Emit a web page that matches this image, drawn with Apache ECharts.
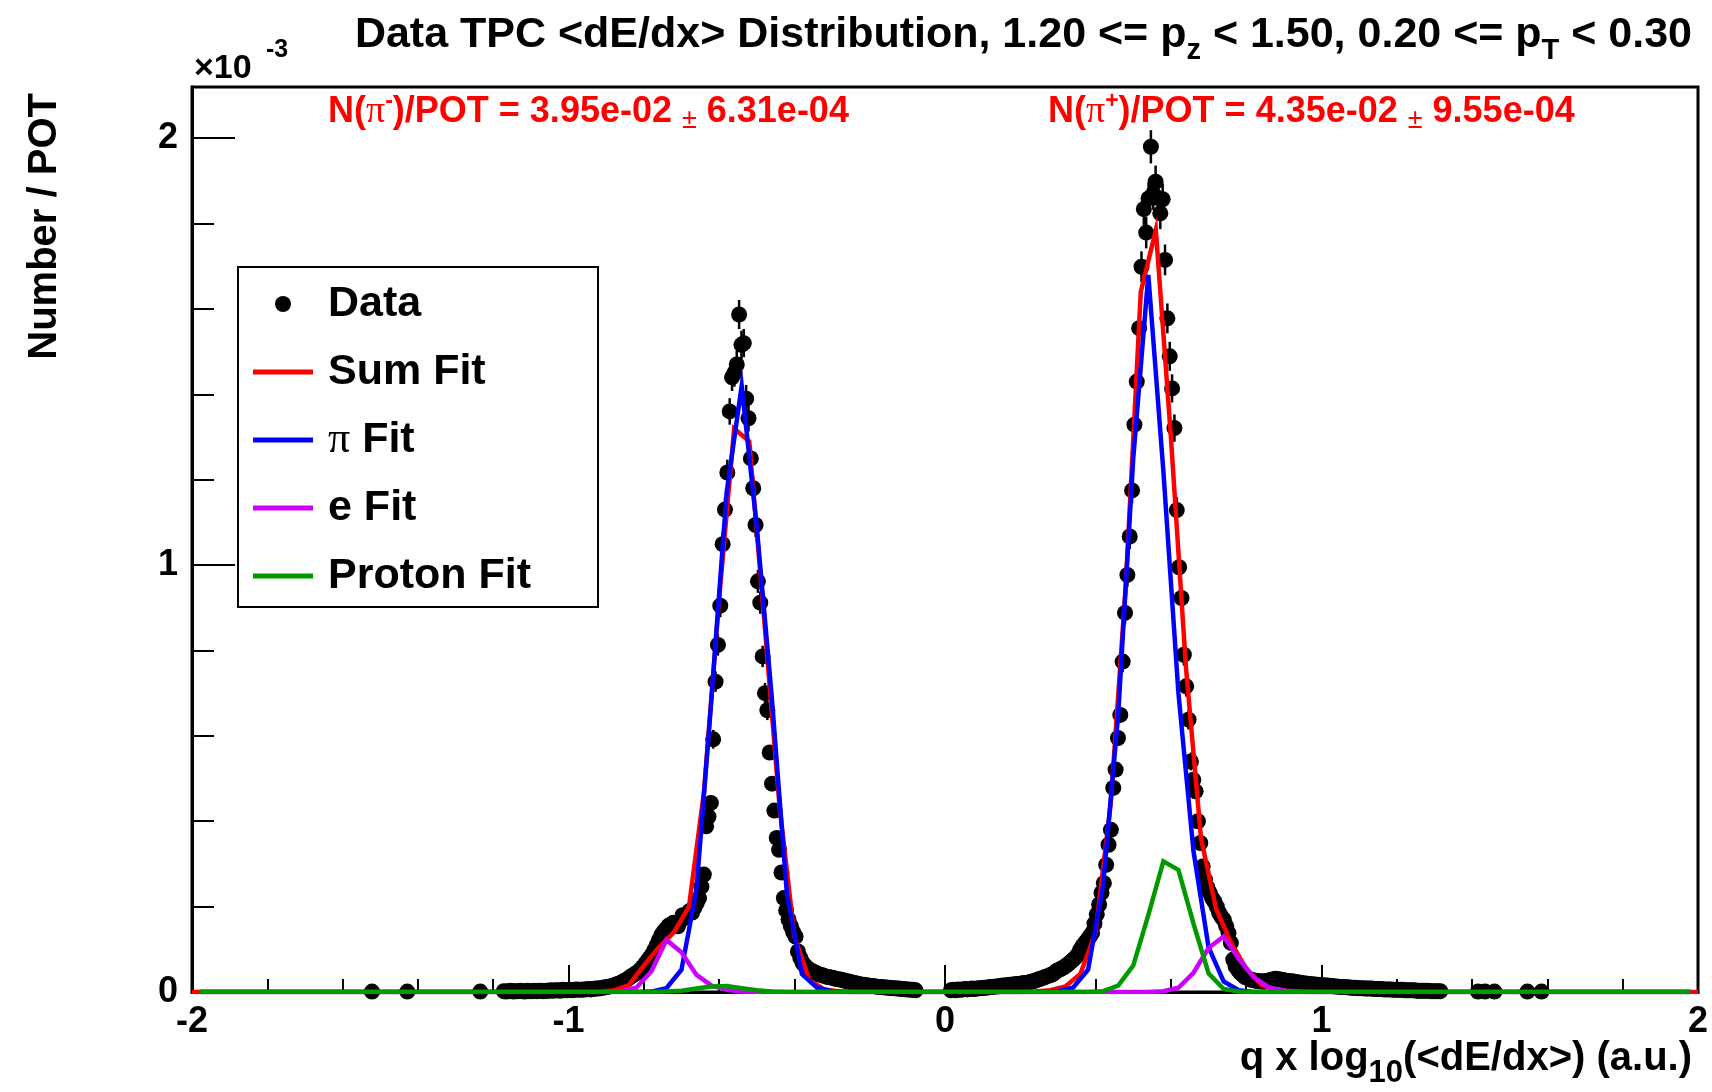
<!DOCTYPE html>
<html><head><meta charset="utf-8">
<script src="https://cdn.jsdelivr.net/npm/echarts/dist/echarts.min.js"></script>
<style>html,body{margin:0;padding:0;background:#fff}#c{width:1712px;height:1092px}</style>
</head><body><div id="c"></div>
<script>
// ---------------- data (values in units of 1e-3) ----------------
const BIN_WIDTH = 0.00625;          // histogram bin width in q x log10(<dE/dx>)
const X_MIN = -2;
const xTickLabels = ['-2', '-1', '0', '1', '2'];
const yTickLabels = ['0', '1', '2'];

// filled bins, negative side (first bin index 132)
const leftBandStart = 132;
const leftBand = [
0.002,0.001,0.002,0.003,0.001,0.002,0.002,0.003,0.002,0.001,0.003,0.002,0.002,0.003,0.002,0.003,0.003,0.002,0.003,
0.003,0.004,0.003,0.004,0.004,0.003,0.005,0.004,0.004,0.005,0.004,0.005,0.006,0.005,0.005,0.006,0.006,0.007,0.006,0.007,
0.008,0.008,0.009,0.010,0.011,0.012,0.013,0.014,0.016,0.018,
0.020,0.022,0.026,0.028,0.032,0.036,0.040,0.043,0.047,0.052,
0.058,0.065,0.072,0.080,0.088,0.098,0.110,0.122,0.134,0.142,
0.148,0.155,0.158,0.162,0.160,0.154,0.166,0.180,0.174,0.183,
0.190,0.186,0.198,0.208,0.220,0.247,0.275,0.388,0.411,0.443,
0.592,0.727,0.813,0.905,1.049,1.130,1.217,1.360,1.440,1.450,
1.470,1.587,1.516,1.520,1.390,1.344,1.250,1.180,1.094,0.962,
0.912,0.786,0.700,0.660,0.561,0.488,0.425,0.361,0.333,0.280,
0.220,0.191,0.170,0.154,0.140,0.130,0.095,0.080,0.068,0.062,
0.056,0.052,0.049,0.046,0.044,0.041,0.040,0.038,0.036,0.035,
0.034,0.033,0.031,0.030,0.029,0.028,0.026,0.025,0.024,0.022,
0.021,0.020,0.019,0.017,0.017,0.016,0.015,0.014,0.014,0.013,
0.012,0.012,0.011,0.011,0.010,0.010,0.009,0.009,0.008,0.008,
0.007,0.007,0.006,0.006,0.005,0.005,0.004
];
// filled bins, positive side (first bin index 322)
const rightBandStart = 322;
const rightBand = [
0.004,0.005,0.004,0.006,0.005,0.006,0.007,0.006,0.007,0.008,0.007,0.008,0.009,0.009,0.010,0.010,0.011,0.012,0.012,
0.013,0.013,0.014,0.015,0.015,0.016,0.017,0.017,0.018,0.019,0.019,0.020,0.021,0.021,0.022,
0.024,0.025,0.027,0.029,0.031,0.033,0.035,0.037,0.039,0.041,0.045,
0.050,0.052,0.055,0.058,0.062,0.066,0.071,0.076,0.081,0.088,
0.099,0.108,0.115,0.122,0.130,0.138,0.160,0.182,0.205,0.232,
0.255,0.298,0.345,0.380,0.478,0.521,0.595,0.649,0.774,0.888,
0.977,1.067,1.175,1.329,1.430,1.555,
1.699,1.834,1.779,1.859,1.980,1.870,1.898,1.860,1.824,1.857,
1.715,1.578,1.489,1.414,1.321,1.129,0.995,0.923,0.790,0.716,
0.638,0.540,0.497,0.470,0.400,0.349,0.294,0.263,0.245,0.232,
0.220,0.212,0.200,0.185,0.176,0.169,0.154,0.138,0.115,0.076,
0.060,0.052,0.045,0.040,0.035,0.033,0.030,0.028,0.027,0.026,0.025,0.025,0.024,
0.026,0.027,0.028,0.030,0.031,0.030,0.029,0.028,0.027,0.026,0.025,0.025,0.024,0.023,0.022,
0.021,0.020,0.020,0.019,0.018,0.018,0.017,0.017,0.016,0.016,
0.015,0.015,0.014,0.014,0.013,0.013,0.012,0.012,0.012,0.011,
0.011,0.010,0.010,0.010,0.009,0.009,0.009,0.008,0.008,0.008,
0.008,0.007,0.007,0.007,0.007,0.006,0.006,0.006,0.006,0.005,
0.005,0.005,0.005,0.005,0.004,0.004,0.004,0.004,0.004,0.003,
0.003,0.003,0.003,0.003,0.003,0.002,0.002,0.002,0.002,0.002
];
// isolated filled bins
const isolatedBins = [76, 91, 122, 546, 549, 553, 567, 573];
const isolatedVals = [0.001, 0.001, 0.001, 0.001, 0.001, 0.001, 0.001, 0.001];
// statistical errors where they show beyond the markers
const leftErrStart = 221;
const leftErr = [0.022,0.024,0.025,0.027,0.028,0.029,0.030,0.031,0.032,0.032,0.032,0.034,0.033,0.033,0.032,0.031,0.030,0.029,0.028,0.027,0.026,0.025,0.024,0.023];
const rightErrStart = 395;
const rightErr = [0.025,0.027,0.028,0.029,0.030,0.032,0.033,0.034,0.036,0.037,0.037,0.037,0.039,0.038,0.038,0.037,0.037,0.037,0.036,0.035,0.034,0.033,0.032,0.030,0.028,0.027,0.025,0.024,0.023,0.021];

// fit curves, sampled every 0.04
const FIT_STEP = 0.04;
const sumFitX0 = -2.00;
const sumFit = [
0,0,0,0,0,0,0,0,0,0,
0,0,0,0,0,0,0,0,0,0,
0,0,0,0,0,0,0,0,0.004,0.016,
0.062,0.105,0.140,0.200,0.47,0.92,1.32,1.29,0.87,0.44,
0.13,0.027,0.006,0.001,0,0,0,0,0,0,
0,0,0,0,0,0,0.001,0.004,0.013,0.043,
0.14,0.44,0.95,1.64,1.785,1.30,0.76,0.36,0.195,0.115,
0.055,0.017,0.005,0.001,0,0,0,0,0,0,
0,0,0,0,0,0,0,0,0,0,
0,0,0,0,0,0,0,0,0,0,
0];
const compFitX0 = -1.98;
const piFit = [
0,0,0,0,0,0,0,0,0,0,
0,0,0,0,0,0,0,0,0,0,
0,0,0,0,0,0,0,0,0,0,
0.001,0.009,0.052,0.24,0.69,1.17,1.42,1.09,0.69,0.23,
0.042,0.01,0.002,0,0,0,0,0,0,0,
0,0,0,0,0,0,0,0.002,0.01,0.052,
0.25,0.65,1.25,1.68,1.22,0.70,0.33,0.105,0.025,0.004,
0,0,0,0,0,0,0,0,0,0,
0,0,0,0,0,0,0,0,0,0,
0,0,0,0,0,0,0,0,0,0];
const eFit = [
0,0,0,0,0,0,0,0,0,0,
0,0,0,0,0,0,0,0,0,0,
0,0,0,0,0,0,0,0,0.002,0.01,
0.048,0.122,0.093,0.040,0.015,0.005,0.001,0,0,0,
0,0,0,0,0,0,0,0,0,0,
0,0,0,0,0,0,0,0,0,0,
0,0,0,0,0.002,0.01,0.045,0.103,0.130,0.078,
0.035,0.011,0.003,0.001,0,0,0,0,0,0,
0,0,0,0,0,0,0,0,0,0,
0,0,0,0,0,0,0,0,0,0];
const protonFit = [
0,0,0,0,0,0,0,0,0,0,
0,0,0,0,0,0,0,0,0,0,
0,0,0,0,0,0,0,0,0,0,
0,0.001,0.003,0.008,0.013,0.014,0.009,0.004,0.001,0,
0,0,0,0,0,0,0,0,0,0,
0,0,0,0,0,0,0,0,0,0,
0.002,0.015,0.062,0.18,0.306,0.286,0.16,0.044,0.007,0.001,
0,0,0,0,0,0,0,0,0,0,
0,0,0,0,0,0,0,0,0,0,
0,0,0,0,0,0,0,0,0,0];

const seriesNames = ['Data', 'Sum Fit', 'π Fit', 'e Fit', 'Proton Fit'];
const seriesColors = ['#000000', '#ff0000', '#0000ff', '#cc00ff', '#009900'];
const titleParts = ['Data TPC <dE/dx> Distribution, 1.20 <= p', 'z', ' < 1.50, 0.20 <= p', 'T', ' < 0.30'];
const yieldTexts = [
  ['N(', 'π', '-', ')/POT = 3.95e-02 ', '±', ' 6.31e-04'],
  ['N(', 'π', '+', ')/POT = 4.35e-02 ', '±', ' 9.55e-04']
];

// ---------------- build ----------------
const FONT = '"Liberation Sans", Arial, Helvetica, sans-serif';
const SERIF = '"Liberation Serif", "DejaVu Serif", serif';
const binX = i => X_MIN + (i + 0.5) * BIN_WIDTH;

const dataPts = [];
leftBand.forEach((v, k) => dataPts.push([binX(leftBandStart + k), v]));
rightBand.forEach((v, k) => dataPts.push([binX(rightBandStart + k), v]));
isolatedBins.forEach((b, k) => dataPts.push([binX(b), isolatedVals[k]]));

const valueAt = i => {
  if (i >= leftBandStart && i < leftBandStart + leftBand.length) return leftBand[i - leftBandStart];
  if (i >= rightBandStart && i < rightBandStart + rightBand.length) return rightBand[i - rightBandStart];
  return 0;
};
const errPts = [];
leftErr.forEach((e, k) => { const i = leftErrStart + k; errPts.push([binX(i), valueAt(i), e]); });
rightErr.forEach((e, k) => { const i = rightErrStart + k; errPts.push([binX(i), valueAt(i), e]); });

const LINE_ICON = 'path://M0,0H60V5H0Z';
function fitSeries(name, x0, vals, color, z) {
  return {
    name, type: 'line', data: vals.map((v, j) => [x0 + j * FIT_STEP, v]),
    showSymbol: false, symbol: 'none', color, itemStyle: { color },
    lineStyle: { color, width: 4.5, join: 'miter' }, z, animation: false, clip: true
  };
}

// echarts text style (color) and zrender graphic style (fill)
const txt = (size, extra) => Object.assign({ fontFamily: FONT, fontWeight: 'bold', fontSize: size, color: '#000' }, extra || {});
const gtxt = (size, extra) => Object.assign({ fontFamily: FONT, fontWeight: 'bold', fontSize: size, fill: '#000' }, extra || {});

const RED = '#ff0000';
const redRich = {
  a: gtxt(36, { fill: RED, lineHeight: 44, verticalAlign: 'middle' }),
  p: { fontFamily: SERIF, fontWeight: 'normal', fontSize: 38, fill: RED, lineHeight: 44, verticalAlign: 'middle' },
  s: gtxt(23, { fill: RED, lineHeight: 22, verticalAlign: 'top' }),
  pm: { fontFamily: FONT, fontWeight: 'normal', fontSize: 27, fill: RED, lineHeight: 42, verticalAlign: 'bottom' }
};
const richLine = parts => `{a|${parts[0]}}{p|${parts[1]}}{s|${parts[2]}}{a|${parts[3]}}{pm|${parts[4]}}{a|${parts[5]}}`;

const chart = echarts.init(document.getElementById('c'), null, { renderer: 'canvas' });
chart.setOption({
  animation: false,
  backgroundColor: '#fff',
  title: {
    text: `{m|${titleParts[0]}}{s|${titleParts[1]}}{m|${titleParts[2]}}{s|${titleParts[3]}}{m|${titleParts[4]}}`,
    right: 20, top: 5, padding: 0,
    textStyle: {
      rich: {
        m: txt(43, { lineHeight: 60, verticalAlign: 'middle' }),
        s: txt(29, { lineHeight: 10, verticalAlign: 'bottom' })
      }
    }
  },
  grid: { left: 192, right: 14, top: 87, bottom: 100, show: true, borderColor: '#000', borderWidth: 3, containLabel: false, outerBoundsMode: 'none' },
  xAxis: {
    type: 'value', min: -2, max: 2, interval: 1,
    axisLine: { show: true, onZero: false, lineStyle: { color: '#000', width: 3 } },
    axisTick: { show: true, inside: true, length: 27, lineStyle: { color: '#000', width: 2 } },
    minorTick: { show: true, splitNumber: 5, length: 13, lineStyle: { color: '#000', width: 2 } },
    splitLine: { show: false },
    axisLabel: { margin: 12, formatter: v => xTickLabels[Math.round(v) + 2] || '', ...txt(36) }
  },
  yAxis: [{
    type: 'value', min: 0, max: 2.12, interval: 1, position: 'left',
    axisLine: { show: true, onZero: false, lineStyle: { color: '#000', width: 3 } },
    axisTick: { show: true, inside: true, length: 43, lineStyle: { color: '#000', width: 2 } },
    splitLine: { show: false },
    axisLabel: { margin: 14, showMaxLabel: false, formatter: v => (Math.abs(v - Math.round(v)) < 1e-9 ? (yTickLabels[Math.round(v)] || '') : ''), ...txt(36) }
  }, {
    type: 'value', min: 0, max: 2.12, interval: 0.2, position: 'left', offset: 0,
    axisLine: { show: false, onZero: false },
    axisTick: { show: true, inside: true, length: 22, lineStyle: { color: '#000', width: 2 } },
    splitLine: { show: false },
    axisLabel: { show: false }
  }],
  legend: {
    orient: 'vertical', left: 238, top: 267,
    padding: [12, 67, 6, 15],
    itemWidth: 60, itemHeight: 16, itemGap: 18,
    borderColor: '#000', borderWidth: 2, backgroundColor: '#fff',
    selectedMode: false,
    itemStyle: { borderWidth: 0, opacity: 1 },
    data: seriesNames.map((n, k) => ({ name: n, icon: k === 0 ? 'circle' : LINE_ICON })),
    formatter: n => n === seriesNames[2] ? '{pi|π}{t| Fit}' : `{t0|${n}}`,
    textStyle: {
      ...txt(43), lineHeight: 50,
      rich: {
        t0: txt(43, { lineHeight: 50, padding: [0, 0, 0, 10], verticalAlign: 'middle' }),
        t: txt(43, { lineHeight: 50, verticalAlign: 'middle' }),
        pi: { fontFamily: SERIF, fontWeight: 'normal', fontSize: 44, color: '#000', lineHeight: 50, padding: [0, 0, 0, 10], verticalAlign: 'middle' }
      }
    }
  },
  graphic: [
    { type: 'text', x: 194, y: 69, style: gtxt(34, { text: '×10', align: 'left', verticalAlign: 'middle' }) },
    { type: 'text', x: 266, y: 50, style: gtxt(25, { text: '-3', align: 'left', verticalAlign: 'middle' }) },
    { type: 'text', x: 45, y: 93, rotation: Math.PI / 2, style: gtxt(40, { text: 'Number / POT', align: 'right', verticalAlign: 'middle' }) },
    { type: 'text', x: 1692, y: 1029, style: {
        text: '{m|q x log}{s|10}{m|(<dE/dx>) (a.u.)}', align: 'right', verticalAlign: 'top',
        rich: { m: gtxt(40, { lineHeight: 60, verticalAlign: 'middle' }), s: gtxt(31, { lineHeight: 4, verticalAlign: 'bottom' }) } } },
    { type: 'text', x: 328, y: 90, style: { text: richLine(yieldTexts[0]), align: 'left', verticalAlign: 'top', rich: redRich } },
    { type: 'text', x: 1048, y: 90, style: { text: richLine(yieldTexts[1]), align: 'left', verticalAlign: 'top', rich: redRich } }
  ],
  series: [
    { name: seriesNames[0], type: 'scatter', data: dataPts, symbol: 'circle', symbolSize: 16,
      itemStyle: { color: '#000', opacity: 1 }, color: '#000', z: 2, animation: false, large: false },
    { name: 'errors', type: 'custom', data: errPts, z: 2, encode: { x: 0, y: 1 },
      renderItem: (params, api) => {
        const x = api.value(0), y = api.value(1), e = api.value(2);
        const p1 = api.coord([x, y - e]), p2 = api.coord([x, y + e]);
        return { type: 'line', shape: { x1: p1[0], y1: p1[1], x2: p2[0], y2: p2[1] }, style: { stroke: '#000', lineWidth: 2.5 } };
      } },
    fitSeries(seriesNames[1], sumFitX0, sumFit, seriesColors[1], 3),
    fitSeries(seriesNames[2], compFitX0, piFit, seriesColors[2], 4),
    fitSeries(seriesNames[3], compFitX0, eFit, seriesColors[3], 5),
    fitSeries(seriesNames[4], compFitX0, protonFit, seriesColors[4], 6)
  ]
});
</script></body></html>
